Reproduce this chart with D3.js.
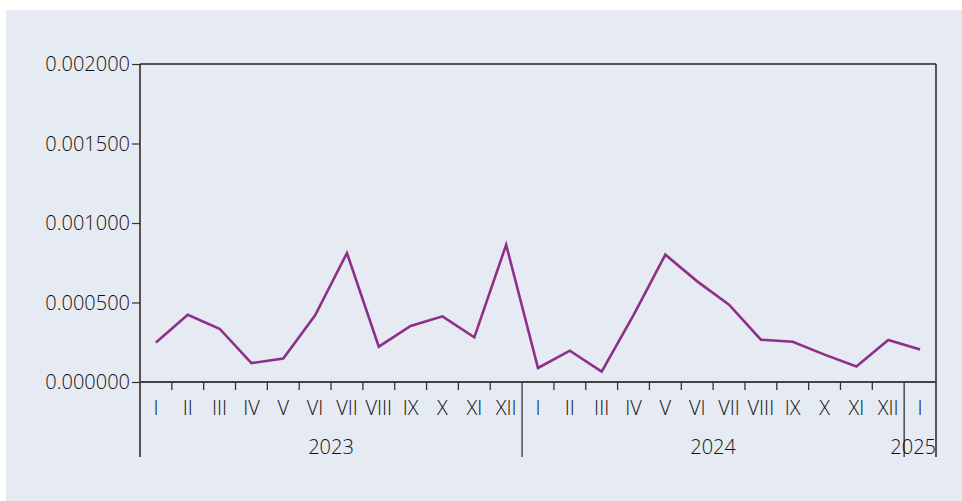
<!DOCTYPE html>
<html>
<head>
<meta charset="utf-8">
<script src="https://cdn.jsdelivr.net/npm/d3@7"></script>
<style>
    html, body { margin: 0; padding: 0; background: #ffffff; }
    svg text { font-family: "Open Sans", sans-serif; font-weight: 300; fill: #111111; }
</style>
</head>
<body>
<div id="chart"></div>
<script>
// Chart data
const monthLabels = [
    "I", "II", "III", "IV", "V", "VI", "VII", "VIII", "IX", "X", "XI", "XII",
    "I", "II", "III", "IV", "V", "VI", "VII", "VIII", "IX", "X", "XI", "XII",
    "I"
];
const yearLabels = ["2023", "2024", "2025"];
const yearMonthCounts = [12, 12, 1];
const values = [
    0.000249, 0.000423, 0.000335, 0.000119, 0.000148, 0.000419, 0.000811, 0.000222, 0.000352, 0.000413, 0.000281, 0.000863,
    0.000088, 0.000197, 0.000065, 0.000420, 0.000801, 0.000633, 0.000486, 0.000266, 0.000253, 0.000172, 0.000098, 0.000264,
    0.000205
];
const yTicks = [0, 0.0005, 0.001, 0.0015, 0.002];

const width = 962;
const height = 501;
const margin = { top: 64, right: 26, bottom: 119, left: 140 };
const plotW = width - margin.left - margin.right;
const plotH = height - margin.top - margin.bottom;
const bottomExt = 75; // how far the category lines drop below the axis

const svg = d3.select("#chart")
    .append("svg")
    .attr("width", width)
    .attr("height", height);

// panel background
svg.append("rect")
    .attr("x", 6)
    .attr("y", 10)
    .attr("width", width - 6)
    .attr("height", height - 10)
    .attr("fill", "#e6eaf2");

const g = svg.append("g").attr("transform", `translate(${margin.left},${margin.top})`);

const x = d3.scaleBand()
    .domain(d3.range(values.length))
    .range([0, plotW])
    .padding(0);

const y = d3.scaleLinear()
    .domain([0, 0.002])
    .range([plotH, 0]);

// y axis
const yAxis = d3.axisLeft(y)
    .tickValues(yTicks)
    .tickFormat(d3.format(".6f"))
    .tickSize(8)
    .tickPadding(2);

const yg = g.append("g").call(yAxis);
yg.select(".domain").remove();
yg.selectAll("line").attr("stroke", "#333").attr("stroke-width", 1.2);
yg.selectAll("text")
    .style("font-size", "20px")
    .attr("fill", "#111")
    .attr("dy", "0.34em");

// frame: left, top, right
g.append("line")
    .attr("x1", 0).attr("x2", 0)
    .attr("y1", 0).attr("y2", plotH + bottomExt)
    .attr("stroke", "#222").attr("stroke-width", 1.5);
g.append("line")
    .attr("x1", 0).attr("x2", plotW)
    .attr("y1", 0).attr("y2", 0)
    .attr("stroke", "#222").attr("stroke-width", 1.5);
g.append("line")
    .attr("x1", plotW).attr("x2", plotW)
    .attr("y1", 0).attr("y2", plotH + bottomExt)
    .attr("stroke", "#222").attr("stroke-width", 1.5);

// x axis baseline
g.append("line")
    .attr("x1", 0).attr("x2", plotW)
    .attr("y1", plotH).attr("y2", plotH)
    .attr("stroke", "#444").attr("stroke-width", 1.8);

// month ticks between bands
const boundaries = d3.range(1, values.length);
const yearStarts = Array.from(d3.cumsum(yearMonthCounts)).slice(0, -1);

g.selectAll(".mtick")
    .data(boundaries.filter((i) => !yearStarts.includes(i)))
    .enter()
    .append("line")
    .attr("class", "mtick")
    .attr("x1", (i) => x(i)).attr("x2", (i) => x(i))
    .attr("y1", plotH).attr("y2", plotH + 8)
    .attr("stroke", "#333").attr("stroke-width", 1.3);

// year separators
g.selectAll(".ysep")
    .data(yearStarts)
    .enter()
    .append("line")
    .attr("class", "ysep")
    .attr("x1", (i) => x(i)).attr("x2", (i) => x(i))
    .attr("y1", plotH).attr("y2", plotH + bottomExt)
    .attr("stroke", "#333").attr("stroke-width", 1.3);

// month labels
g.selectAll(".mlabel")
    .data(monthLabels)
    .enter()
    .append("text")
    .attr("class", "mlabel")
    .attr("x", (d, i) => x(i) + x.bandwidth() / 2)
    .attr("y", plotH + 26)
    .attr("dy", "0.35em")
    .attr("text-anchor", "middle")
    .style("font-size", "20px")
    .text((d) => d);

// year labels (kept inside the plot's right edge)
const yearStartIdx = [0].concat(yearStarts);
g.selectAll(".ylabel")
    .data(yearLabels)
    .enter()
    .append("text")
    .attr("class", "ylabel")
    .attr("y", plotH + 65)
    .attr("dy", "0.35em")
    .attr("text-anchor", "middle")
    .style("font-size", "20px")
    .text((d) => d)
    .attr("x", function (d, i) {
        const a = x(yearStartIdx[i]);
        const b = a + yearMonthCounts[i] * x.bandwidth();
        const half = this.getComputedTextLength() / 2;
        return Math.min((a + b) / 2, plotW - half);
    });

// data line
const line = d3.line()
    .x((d, i) => x(i) + x.bandwidth() / 2)
    .y((d) => y(d));

g.append("path")
    .datum(values)
    .attr("d", line)
    .attr("fill", "none")
    .attr("stroke", "#8e2f88")
    .attr("stroke-width", 2.6)
    .attr("stroke-linejoin", "miter");
</script>
</body>
</html>
